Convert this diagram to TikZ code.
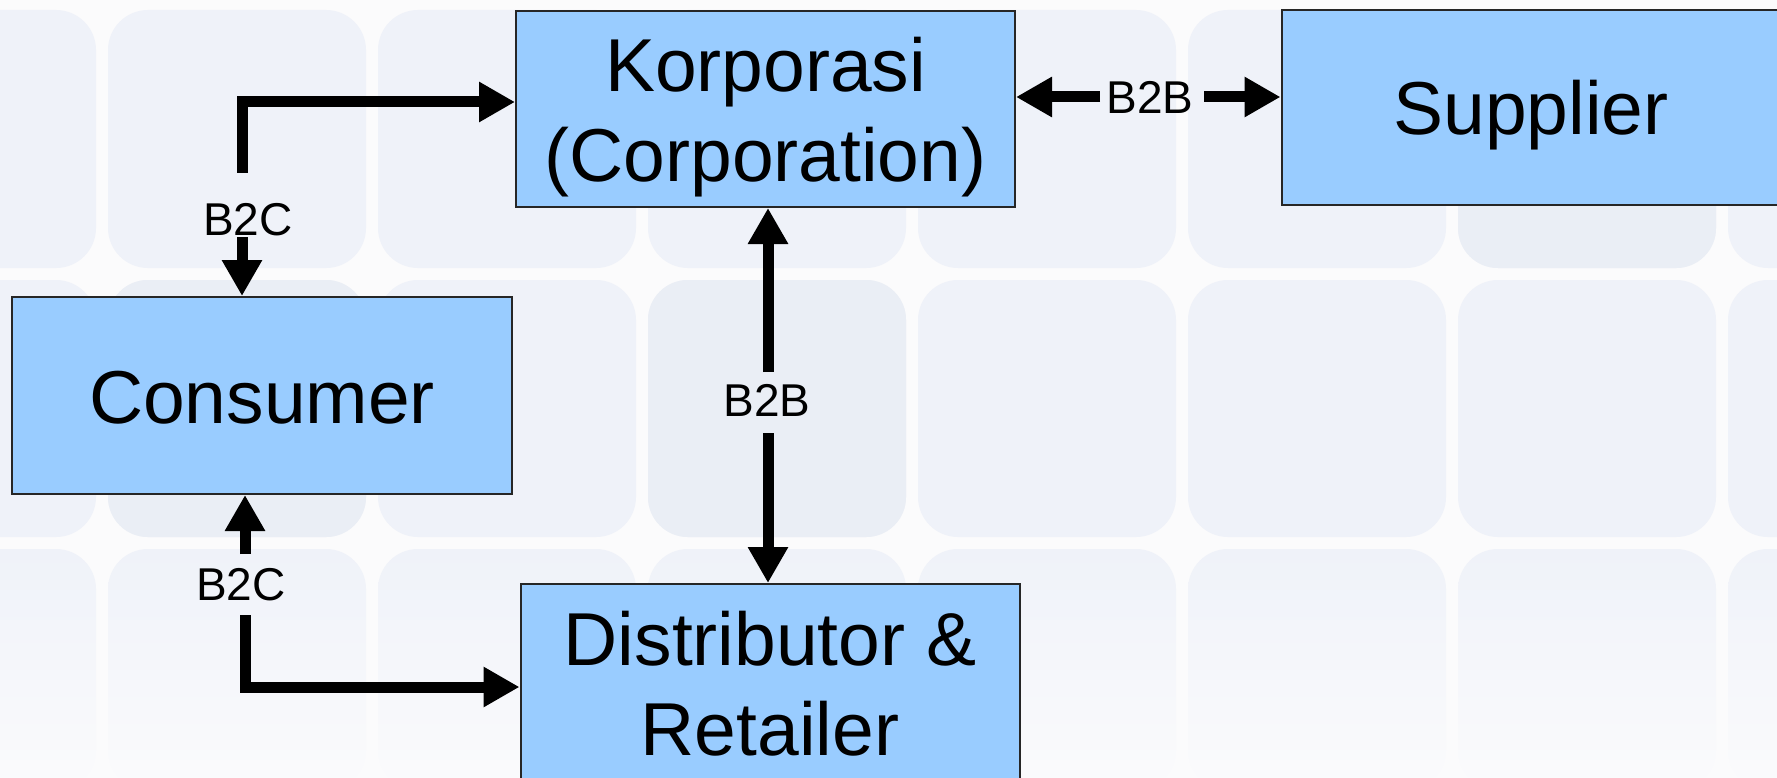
\documentclass[tikz,border=0pt]{standalone}
\usepackage{fontspec}
\newfontfamily\arialfont{Liberation Sans}
\usetikzlibrary{arrows.meta,calc}
\definecolor{boxblue}{HTML}{99CCFF}
\definecolor{bgcol}{HTML}{FBFBFC}
\definecolor{tilecol}{HTML}{EFF2F9}
\definecolor{tiledark}{HTML}{EAEEF5}
\begin{document}
\begin{tikzpicture}[x=1pt,y=-1pt,
  box/.style={draw=black!85, line width=2pt, fill=boxblue, minimum width=499pt,
    minimum height=196pt, inner sep=0pt, align=center,
    font=\arialfont\fontsize{75}{90}\selectfont, text height=55pt, text depth=0pt},
  twoline/.style={text height=145pt, text depth=0pt},
  lbl/.style={font=\arialfont\fontsize{46}{55}\selectfont, inner sep=0pt,
    text height=33pt, text depth=0pt},
  conn/.style={line width=11pt, line join=miter, draw=black,
    -{Triangle[length=36pt,width=38pt]}},
  tile/.style={rounded corners=40pt}
]
\useasboundingbox (0,0) rectangle (1777,778);
\fill[bgcol] (0,0) rectangle (1777,778);
% background tiles
\foreach \k in {-1,...,6} {
  \pgfmathsetmacro\xa{102+270*\k+6}
  \pgfmathsetmacro\xb{102+270*(\k+1)-6}
  \fill[tilecol, tile] (\xa,10) rectangle (\xb,268);
  \fill[tilecol, tile] (\xa,280) rectangle (\xb,537);
  \shade[tile, top color=tilecol, bottom color=bgcol] (\xa,549) rectangle (\xb,790);
}
\fill[tiledark, tile] (1458,10) rectangle (1716,268);
\fill[tiledark, tile] (648,280) rectangle (906,537);
\fill[tiledark, tile] (108,280) rectangle (366,537);
% boxes
\node[box, twoline] (korp) at (765.5,109) {Korporasi\\(Corporation)};
\node[box, minimum height=195pt] (supp) at (1531,107.5) {Supplier};
\node[box, minimum width=500pt, minimum height=197pt] (cons) at (262,395.5) {Consumer};
\node[box, twoline, minimum height=198pt] (dist) at (770,683) {Distributor \&\\Retailer};
% labels
\node[lbl] (lblC1) at (248,219) {B2C};
\node[lbl] (lblB1) at (1150,97) {B2B};
\node[lbl] (lblB2) at (767,400) {B2B};
\node[lbl] (lblC2) at (241,584) {B2C};
% connector free ends
\coordinate (c1a) at (242,173);
\coordinate (c1b) at (242,237);
\coordinate (c2a) at (1100,97);
\coordinate (c2b) at (1204,97);
\coordinate (c3a) at (768,372);
\coordinate (c3b) at (768,433);
\coordinate (c4a) at (245,554);
\coordinate (c4b) at (245,615);
% connectors
\draw[conn] (c1a) |- ([yshift=7pt]korp.west);
\draw[conn] (c1b) -- (cons.north -| c1b);
\draw[conn] (c2a) -- ([yshift=12pt]korp.east);
\draw[conn] (c2b) -- ([yshift=10.5pt]supp.west);
\draw[conn] (c3a) -- (korp.south -| c3a);
\draw[conn] (c3b) -- (dist.north -| c3b);
\draw[conn] (c4a) -- (cons.south -| c4a);
\draw[conn] (c4b) |- ([yshift=-4pt]dist.west);
\end{tikzpicture}
\end{document}
